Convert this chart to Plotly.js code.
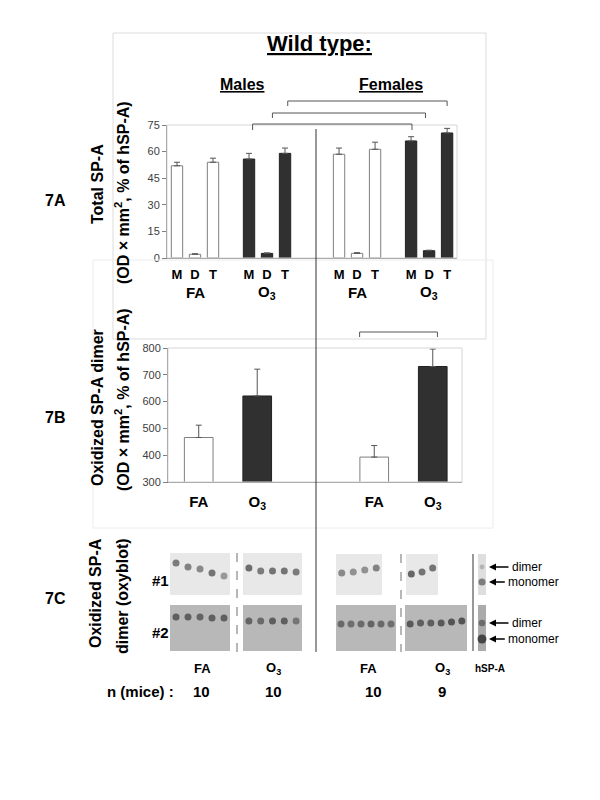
<!DOCTYPE html>
<html>
<head>
<meta charset="utf-8">
<script src="https://cdn.plot.ly/plotly-3.0.1.min.js"></script>
<style>html,body{margin:0;padding:0;background:#fff;}#chart{width:600px;height:800px;}</style>
</head>
<body>
<div id="chart"></div>
<script>
// ---------- DATA ----------
// 7A: Total SP-A (OD x mm2, % of hSP-A); order M, D, T
const fractions7A = ['M', 'D', 'T'];
const malesFA = [52.0, 2.1, 54.0];
const malesFAErr = [2.0, 0.3, 2.3];
const malesO3 = [55.8, 2.6, 59.0];
const malesO3Err = [3.2, 0.3, 3.0];
const femalesFA = [58.5, 2.6, 61.3];
const femalesFAErr = [3.5, 0.4, 4.0];
const femalesO3 = [66.0, 4.1, 70.5];
const femalesO3Err = [2.4, 0.3, 2.6];

// 7B: Oxidized SP-A dimer (OD x mm2, % of hSP-A)
const groups7B = ['FA', 'O3'];
const males7B = [466, 621];
const males7BErr = [46, 100];
const females7B = [393, 731];
const females7BErr = [43, 65];

// 7C: oxyblot band intensities (0-1) and migration (px from blot top) per lane
const blotMaleFA1 = [0.75, 0.7, 0.65, 0.8, 0.55];
const blotMaleFA1Mig = [10, 14, 16, 20, 23];
const blotMaleO31 = [0.85, 0.75, 0.8, 0.8, 0.75];
const blotMaleO31Mig = [15, 18, 18, 18, 19];
const blotMaleFA2 = [0.8, 0.8, 0.75, 0.8, 0.8];
const blotMaleFA2Mig = [12, 12, 12, 13, 13];
const blotMaleO32 = [0.75, 0.7, 0.8, 0.8, 0.6];
const blotMaleO32Mig = [16, 16, 16, 16, 16];
const blotFemFA1 = [0.65, 0.6, 0.6, 0.7];
const blotFemFA1Mig = [19, 18, 16, 14];
const blotFemO31 = [0.9, 0.8, 0.8];
const blotFemO31Mig = [20, 18, 14];
const blotFemFA2 = [0.7, 0.65, 0.7, 0.75, 0.7, 0.65];
const blotFemFA2Mig = [19, 19, 19, 19, 19, 19];
const blotFemO32 = [0.85, 0.8, 0.8, 0.85, 0.9, 0.9];
const blotFemO32Mig = [19, 18, 18, 18, 17, 16];
const blotHsp1 = [0.3, 0.7];      // dimer, monomer
const blotHsp1Mig = [13, 28];
const blotHsp2 = [0.6, 1.0];
const blotHsp2Mig = [18, 34];

const nMice = ['10', '10', '10', '9'];

// ---------- LAYOUT HELPERS ----------
const FONT = 'Liberation Sans, Arial, sans-serif';
const W = 600, H = 800;
// 7A slot positions
const slotsMFA = [0, 1, 2], slotsMO3 = [4, 5, 6], slotsFFA = [9, 10, 11], slotsFO3 = [13, 14, 15];
const zeros = a => a.map(() => 0);

const traces = [];
function bars7A(x, y, err, fill, line) {
  traces.push({
    type: 'bar', x: x, y: y, xaxis: 'x', yaxis: 'y', width: 0.63,
    marker: {color: fill, line: {color: line, width: 1}},
    error_y: {type: 'data', symmetric: false, array: err, arrayminus: zeros(err), color: '#555', thickness: 1, width: 3},
    hoverinfo: 'skip'
  });
}
bars7A(slotsMFA, malesFA, malesFAErr, '#ffffff', '#7f7f7f');
bars7A(slotsMO3, malesO3, malesO3Err, '#303030', '#222222');
bars7A(slotsFFA, femalesFA, femalesFAErr, '#ffffff', '#7f7f7f');
bars7A(slotsFO3, femalesO3, femalesO3Err, '#303030', '#222222');

function bars7B(x, y, err, fill, line) {
  traces.push({
    type: 'bar', x: x, y: y, xaxis: 'x2', yaxis: 'y2', width: 0.49,
    marker: {color: fill, line: {color: line, width: 1}},
    error_y: {type: 'data', symmetric: false, array: err, arrayminus: zeros(err), color: '#555', thickness: 1, width: 3},
    hoverinfo: 'skip'
  });
}
bars7B([0, 3], [males7B[0], females7B[0]], [males7BErr[0], females7BErr[0]], '#ffffff', '#7f7f7f');
bars7B([1, 4], [males7B[1], females7B[1]], [males7BErr[1], females7BErr[1]], '#303030', '#222222');

// Blots (pixel geometry on overlay axis x3/y3)
const shapes = [];
const blots = [
  {box: [170, 553, 230, 595], fill: '#e8e8e8', vals: blotMaleFA1, mig: blotMaleFA1Mig},
  {box: [243, 553, 302, 595], fill: '#e8e8e8', vals: blotMaleO31, mig: blotMaleO31Mig},
  {box: [170, 605, 230, 651], fill: '#b8b8b8', vals: blotMaleFA2, mig: blotMaleFA2Mig},
  {box: [243, 605, 302, 651], fill: '#b8b8b8', vals: blotMaleO32, mig: blotMaleO32Mig},
  {box: [336, 554, 382, 595], fill: '#e8e8e8', vals: blotFemFA1, mig: blotFemFA1Mig},
  {box: [406, 554, 438, 595], fill: '#e8e8e8', vals: blotFemO31, mig: blotFemO31Mig},
  {box: [336, 605, 396, 651], fill: '#b8b8b8', vals: blotFemFA2, mig: blotFemFA2Mig},
  {box: [405, 605, 467, 651], fill: '#b8b8b8', vals: blotFemO32, mig: blotFemO32Mig},
  {box: [478, 554, 486, 595], fill: '#dedede', vals: blotHsp1, mig: blotHsp1Mig, single: true},
  {box: [478, 605, 486, 651], fill: '#ababab', vals: blotHsp2, mig: blotHsp2Mig, single: true}
];
blots.forEach(b => {
  const [x0, y0, x1, y1] = b.box;
  shapes.push({type: 'rect', xref: 'x3', yref: 'y3', x0: x0, y0: y0, x1: x1, y1: y1,
    fillcolor: b.fill, line: {width: 0}, layer: 'below'});
  const n = b.vals.length;
  const xs = b.vals.map((v, i) => b.single ? (x0 + x1) / 2 : x0 + (i + 0.5) * (x1 - x0) / n);
  const ys = b.mig.map(m => y0 + m);
  traces.push({
    type: 'scatter', mode: 'markers', x: xs, y: ys, xaxis: 'x3', yaxis: 'y3', hoverinfo: 'skip',
    marker: {symbol: 'circle', size: b.vals.map(v => b.single ? 3 + 6 * v : 7),
      color: b.vals.map(v => 'rgba(25,25,25,' + v + ')'), line: {width: 0}}
  });
});

// frames and lines
const pxLine = (x0, y0, x1, y1, color, width, dash) => shapes.push({type: 'line', xref: 'x3', yref: 'y3',
  x0: x0, y0: y0, x1: x1, y1: y1, line: {color: color, width: width, dash: dash || 'solid'}});
const pxRect = (x0, y0, x1, y1, color) => shapes.push({type: 'rect', xref: 'x3', yref: 'y3',
  x0: x0, y0: y0, x1: x1, y1: y1, line: {color: color, width: 1}, fillcolor: 'rgba(0,0,0,0)'});
pxRect(113, 33, 486, 339, '#dcdcdc');      // 7A outer frame
pxRect(93, 260, 493, 528, '#ececec');      // 7B outer frame
pxRect(167, 125, 457, 258, '#d6d6d6');     // 7A plot frame
pxRect(168, 348, 462, 482, '#d6d6d6');     // 7B plot frame
pxLine(316, 129, 316, 652, '#333333', 1);  // males / females divider
pxLine(237, 553, 237, 652, '#888888', 1.2, 'dash');
pxLine(401, 554, 401, 652, '#888888', 1.2, 'dash');
pxLine(473, 554, 473, 651, '#333333', 1);

// significance brackets (x in data units, y in px)
function bracket(xref, xa, xb, ytop, ybot) {
  shapes.push({type: 'path', xref: xref, yref: 'y3',
    path: `M ${xa},${ybot} L ${xa},${ytop} L ${xb},${ytop} L ${xb},${ybot}`,
    line: {color: '#555555', width: 1}});
}
bracket('x', 6.15, 15.0, 101, 106);
bracket('x', 5.3, 13.8, 113, 118);
bracket('x', 4.2, 13.05, 124, 130);
bracket('x2', 2.75, 4.08, 332, 337);

// annotations
const ann = [];
const txt = (x, y, text, size, opts) => ann.push(Object.assign({xref: 'x3', yref: 'y3', x: x, y: y, text: text,
  showarrow: false, font: {family: FONT, size: size, color: '#000'}, xanchor: 'center', yanchor: 'middle'}, opts || {}));
txt(319, 43, '<b><u>Wild type:</u></b>', 22);
txt(242, 84, '<b><u>Males</u></b>', 16);
txt(391, 84, '<b><u>Females</u></b>', 16);
txt(55, 200, '<b>7A</b>', 16);
txt(55, 417, '<b>7B</b>', 16);
txt(55, 598, '<b>7C</b>', 16);
txt(97, 184, '<b>Total SP-A</b>', 16, {textangle: -90});
txt(122, 193, '<b>(OD × mm<sup>2</sup>, % of hSP-A)</b>', 16, {textangle: -90});
txt(97, 408, '<b>Oxidized SP-A dimer</b>', 16, {textangle: -90});
txt(122, 400, '<b>(OD × mm<sup>2</sup>, % of hSP-A)</b>', 16, {textangle: -90});
txt(95, 593, '<b>Oxidized SP-A</b>', 16, {textangle: -90});
txt(122, 596, '<b>dimer (oxyblot)</b>', 16, {textangle: -90});
// group labels under 7A (x from data slots)
[[1, 'FA'], [5, 'O<sub>3</sub>'], [10, 'FA'], [14, 'O<sub>3</sub>']].forEach(([s, t]) =>
  ann.push({xref: 'x', yref: 'y3', x: s, y: 292, text: '<b>' + t + '</b>', showarrow: false,
    font: {family: FONT, size: 15, color: '#000'}, yanchor: 'middle'}));
txt(160, 580, '<b>#1</b>', 15);
txt(160, 632, '<b>#2</b>', 15);
txt(202, 668, '<b>FA</b>', 13);
txt(273, 668, '<b>O<sub>3</sub></b>', 13);
txt(368, 668, '<b>FA</b>', 13);
txt(442, 668, '<b>O<sub>3</sub></b>', 13);
txt(490, 668, '<b>hSP-A</b>', 10);
txt(140, 691, '<b>n (mice) :</b>', 15);
[201, 273, 373, 442].forEach((x, i) => txt(x, 691, '<b>' + nMice[i] + '</b>', 15));
// arrows with labels
[[567, 'dimer'], [582, 'monomer'], [623, 'dimer'], [639, 'monomer']].forEach(([y, t]) => {
  ann.push({xref: 'x3', yref: 'y3', x: 489, y: y, axref: 'x3', ayref: 'y3', ax: 510 + t.length * 3.4, ay: y,
    text: t, showarrow: true, arrowhead: 2, arrowsize: 1, arrowwidth: 1.4, arrowcolor: '#000',
    font: {family: FONT, size: 12, color: '#000'}, standoff: 0, startstandoff: 2});
});

const tickFont = {family: FONT, size: 11, color: '#404040'};
const layout = {
  width: W, height: H, margin: {l: 0, r: 0, t: 0, b: 0},
  paper_bgcolor: '#ffffff', plot_bgcolor: 'rgba(0,0,0,0)',
  showlegend: false, hovermode: false, barmode: 'overlay',
  font: {family: FONT},
  xaxis: {domain: [167 / W, 457 / W], range: [-0.555, 15.55], anchor: 'y',
    tickvals: [].concat(slotsMFA, slotsMO3, slotsFFA, slotsFO3),
    ticktext: [].concat(fractions7A, fractions7A, fractions7A, fractions7A).map(t => '<b>' + t + '</b>'),
    tickfont: {family: FONT, size: 13, color: '#000'}, ticks: '', ticklabelstandoff: 4,
    showline: true, linecolor: '#808080', linewidth: 1, showgrid: false, zeroline: false, fixedrange: true},
  yaxis: {domain: [1 - 258 / H, 1 - 125 / H], range: [0, 75], dtick: 15, anchor: 'x',
    tickfont: tickFont, ticks: 'outside', ticklen: 4, tickcolor: '#808080',
    showline: true, linecolor: '#808080', linewidth: 1, showgrid: false, zeroline: false, fixedrange: true},
  xaxis2: {domain: [168 / W, 462 / W], range: [-0.525, 4.5], anchor: 'y2',
    tickvals: [0, 1, 3, 4],
    ticktext: [groups7B[0], 'O<sub>3</sub>', groups7B[0], 'O<sub>3</sub>'].map(t => '<b>' + t + '</b>'),
    tickfont: {family: FONT, size: 15, color: '#000'}, ticks: '', ticklabelstandoff: 6,
    showline: true, linecolor: '#808080', linewidth: 1, showgrid: false, zeroline: false, fixedrange: true},
  yaxis2: {domain: [1 - 482 / H, 1 - 348 / H], range: [300, 800], dtick: 100, anchor: 'x2',
    tickfont: tickFont, ticks: 'outside', ticklen: 4, tickcolor: '#808080',
    showline: true, linecolor: '#808080', linewidth: 1, showgrid: false, zeroline: false, fixedrange: true},
  xaxis3: {domain: [0, 1], range: [0, W], visible: false, anchor: 'y3', fixedrange: true},
  yaxis3: {domain: [0, 1], range: [H, 0], visible: false, anchor: 'x3', fixedrange: true},
  shapes: shapes,
  annotations: ann
};

Plotly.newPlot('chart', traces, layout, {staticPlot: true, displayModeBar: false});
</script>
</body>
</html>
